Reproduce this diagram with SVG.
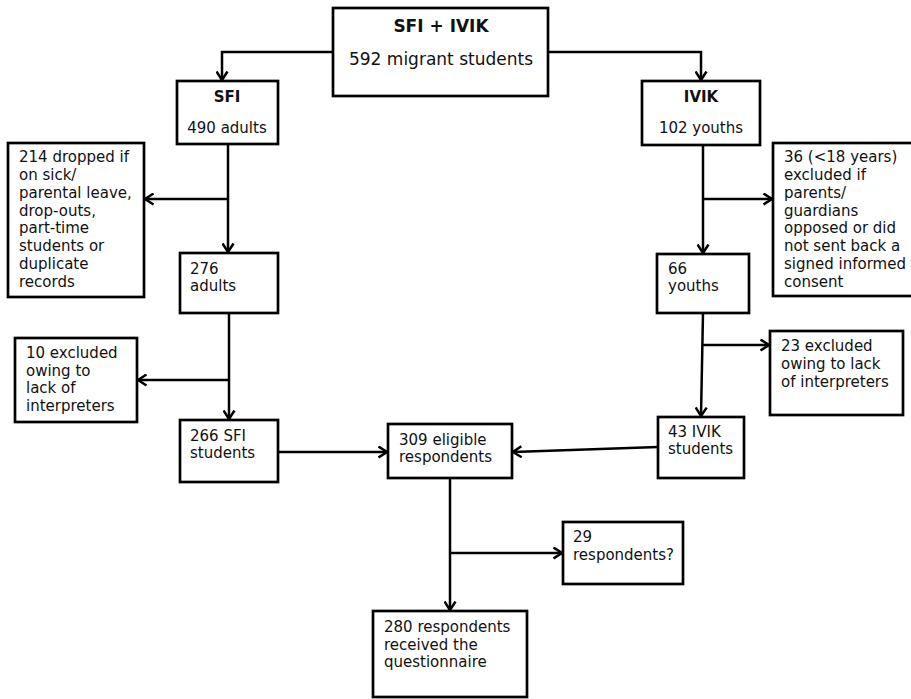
<svg xmlns="http://www.w3.org/2000/svg" width="911" height="699" viewBox="0 0 911 699">
<style>
rect.n{fill:#fff;stroke:#000;stroke-width:2.7}
text{font-family:"DejaVu Sans",Verdana,sans-serif;font-size:15px;fill:#111}
text.c{text-anchor:middle}
text.b{font-weight:bold}
.e path{fill:none;stroke:#000;stroke-width:2.5}
</style>
<defs>
<marker id="arr" viewBox="0 0 11 13" refX="9.5" refY="6.5" markerWidth="11" markerHeight="13" markerUnits="userSpaceOnUse" orient="auto">
<path d="M1,1 L9.5,6.5 L1,12" fill="none" stroke="#000" stroke-width="2.5"/>
</marker>
</defs>
<rect width="911" height="699" fill="#fff"/>
<g class="e" id="connectors">
<path d="M333,52 H222 V80" marker-end="url(#arr)"/>
<path d="M548,52 H701 V80" marker-end="url(#arr)"/>
<path d="M228,144 V252" marker-end="url(#arr)"/>
<path d="M228,199 H145" marker-end="url(#arr)"/>
<path d="M229,313 V419" marker-end="url(#arr)"/>
<path d="M229,380 H138" marker-end="url(#arr)"/>
<path d="M278,452 H387" marker-end="url(#arr)"/>
<path d="M658,447 L513,452" marker-end="url(#arr)"/>
<path d="M703,145 V253" marker-end="url(#arr)"/>
<path d="M703,199 H772" marker-end="url(#arr)"/>
<path d="M703,313 L701,416" marker-end="url(#arr)"/>
<path d="M702,345 H769" marker-end="url(#arr)"/>
<path d="M450,478 V610" marker-end="url(#arr)"/>
<path d="M450,553 H562" marker-end="url(#arr)"/>
</g>
<g id="top"><rect class="n" x="333" y="8" width="215" height="88"/>
<text class="c b" x="441" y="32" style="font-size:17px">SFI + IVIK</text>
<text class="c" x="441" y="65" style="font-size:17px">592 migrant students</text></g>
<g id="sfi"><rect class="n" x="177" y="81" width="101" height="63"/>
<text class="c b" x="227" y="102">SFI</text>
<text class="c" x="227" y="133">490 adults</text></g>
<g id="ivik"><rect class="n" x="642" y="81" width="118" height="64"/>
<text class="c b" x="701" y="102">IVIK</text>
<text class="c" x="701" y="133">102 youths</text></g>
<g id="dropped214"><rect class="n" x="8" y="143" width="136" height="154"/>
<text x="19" y="162">214 dropped if</text>
<text x="19" y="180">on sick/</text>
<text x="19" y="197.5">parental leave,</text>
<text x="19" y="215.5">drop-outs,</text>
<text x="19" y="233">part-time</text>
<text x="19" y="251">students or</text>
<text x="19" y="269">duplicate</text>
<text x="19" y="287">records</text></g>
<g id="adults276"><rect class="n" x="180" y="253" width="98" height="60"/>
<text x="190" y="274">276</text>
<text x="190" y="291">adults</text></g>
<g id="excluded10"><rect class="n" x="15" y="338" width="122" height="84"/>
<text x="26" y="358">10 excluded</text>
<text x="26" y="375.5">owing to</text>
<text x="26" y="393">lack of</text>
<text x="26" y="410.5">interpreters</text></g>
<g id="sfi266"><rect class="n" x="180" y="420" width="98" height="62"/>
<text x="190" y="441">266 SFI</text>
<text x="190" y="458">students</text></g>
<g id="eligible309"><rect class="n" x="388" y="424" width="124" height="54"/>
<text x="399" y="445">309 eligible</text>
<text x="399" y="462">respondents</text></g>
<g id="resp29"><rect class="n" x="563" y="522" width="120" height="62"/>
<text x="573" y="542">29</text>
<text x="573" y="560">respondents?</text></g>
<g id="resp280"><rect class="n" x="373" y="611" width="154" height="86"/>
<text x="384" y="632">280 respondents</text>
<text x="384" y="649.5">received the</text>
<text x="384" y="667">questionnaire</text></g>
<g id="excluded36"><rect class="n" x="773" y="143" width="142" height="153"/>
<text x="784" y="162">36 (&lt;18 years)</text>
<text x="784" y="180">excluded if</text>
<text x="784" y="197.5">parents/</text>
<text x="784" y="215.5">guardians</text>
<text x="784" y="233">opposed or did</text>
<text x="784" y="251">not sent back a</text>
<text x="784" y="269">signed informed</text>
<text x="784" y="287">consent</text></g>
<g id="youths66"><rect class="n" x="657" y="254" width="92" height="59"/>
<text x="668" y="274">66</text>
<text x="668" y="291">youths</text></g>
<g id="excluded23"><rect class="n" x="770" y="331" width="133" height="84"/>
<text x="781" y="351">23 excluded</text>
<text x="781" y="369">owing to lack</text>
<text x="781" y="387">of interpreters</text></g>
<g id="ivik43"><rect class="n" x="658" y="417" width="86" height="61"/>
<text x="668" y="437">43 IVIK</text>
<text x="668" y="454">students</text></g>
</svg>
